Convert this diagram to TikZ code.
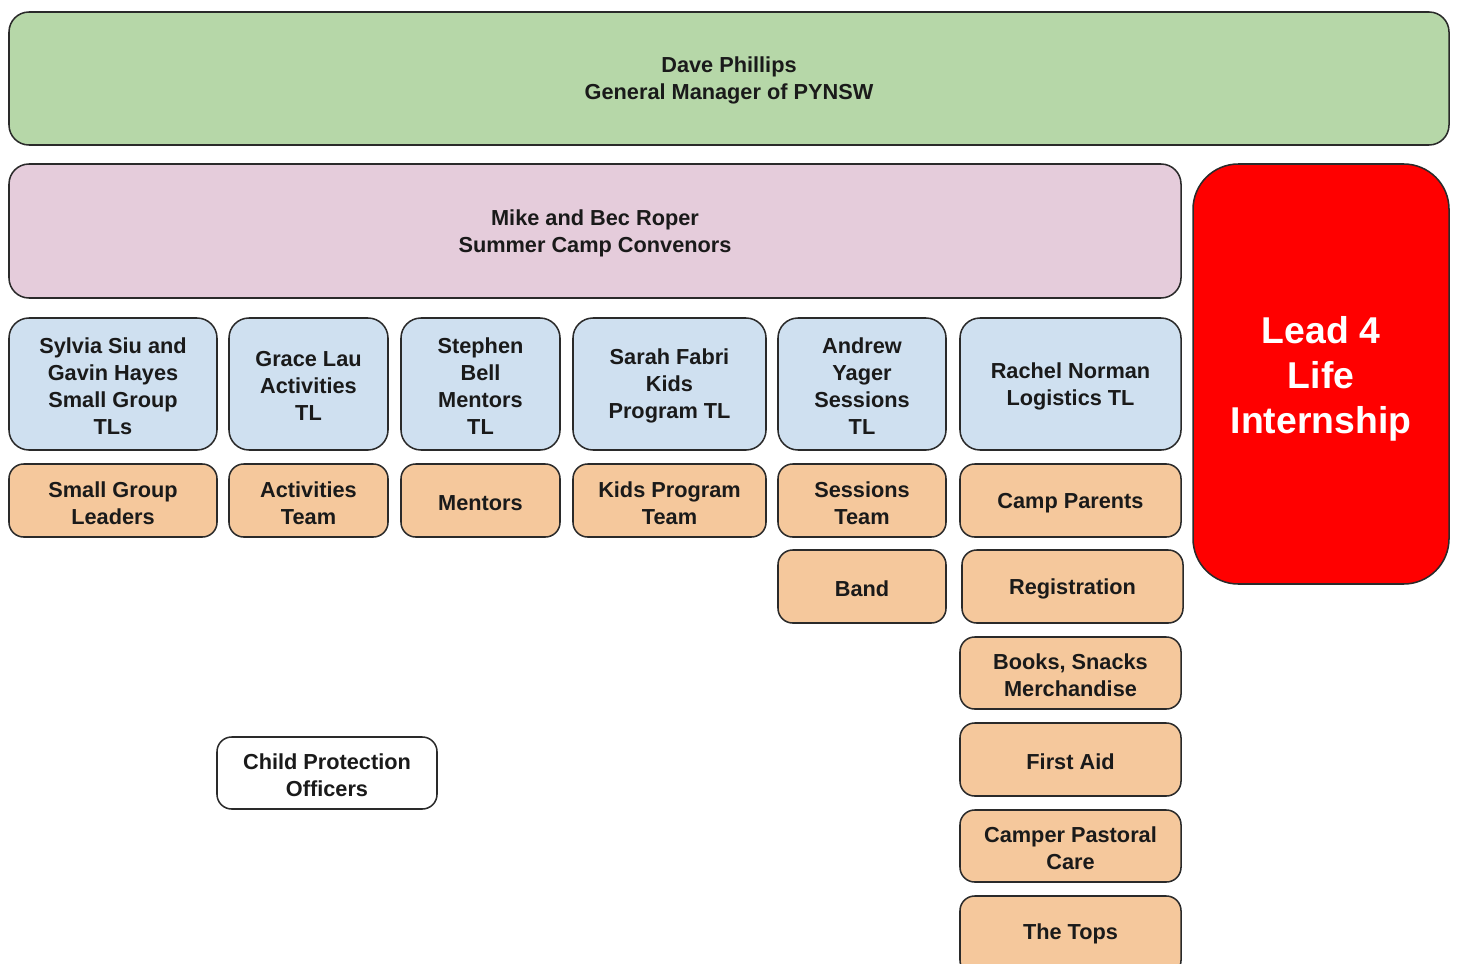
\documentclass[tikz,border=0pt]{standalone}
\usepackage{fontspec}
\setmainfont{Liberation Sans}
\definecolor{gm}{HTML}{B6D7A8}
\definecolor{pk}{HTML}{E5CCDB}
\definecolor{bl}{HTML}{CFE0F0}
\definecolor{org}{HTML}{F5C89C}
\definecolor{edge}{HTML}{2A2A2A}
\definecolor{txt}{HTML}{1A1A1A}
\tikzset{
  box/.style={draw=edge, line width=1.15pt, rounded corners=11pt},
  lbl/.style={align=center, font=\bfseries\fontsize{16.3}{20.2}\selectfont, text=txt, inner sep=0pt},
}
\begin{document}
\begin{tikzpicture}[x=0.75pt,y=-0.75pt]
\useasboundingbox (0,0) rectangle (1458,963);
\clip (0,0) rectangle (1458,963);
% top
\draw[box, fill=gm, rounded corners=15pt] (9,12) rectangle (1449,145);
\node[lbl] (gm) at (729,80) {Dave Phillips\\General Manager of PYNSW};
\draw[box, fill=pk, rounded corners=15pt] (9,164) rectangle (1181,298);
\node[lbl] (conv) at (595,233) {Mike and Bec Roper\\Summer Camp Convenors};
\draw[box, fill=red, rounded corners=34pt] (1193,164) rectangle (1449,584);
\node[lbl, text=white, font=\bfseries\fontsize{28}{34}\selectfont] (l4l) at (1321,379) {Lead 4\\Life\\Internship};
% blue row
\foreach \a/\b/\n/\t in {9/217/s1/{Sylvia Siu and\\Gavin Hayes\\Small Group\\TLs},
  229/388/s2/{Grace Lau\\Activities\\TL},
  401/560/s3/{Stephen\\Bell\\Mentors\\TL},
  573/766/s4/{Sarah Fabri\\Kids\\Program TL},
  778/946/s5/{Andrew\\Yager\\Sessions\\TL},
  960/1181/s6/{Rachel Norman\\Logistics TL}}{
  \draw[box, fill=bl, rounded corners=15pt] (\a,318) rectangle (\b,450);
  \node[lbl] (\n) at ({(\a+\b)/2},386) {\t};
}
% orange boxes
\foreach \a/\b/\ya/\yb in {9/217/464/537, 229/388/464/537, 401/560/464/537,
  573/766/464/537, 778/946/464/537, 960/1181/464/537, 778/946/550/623,
  962/1183/550/623, 960/1181/637/709, 960/1181/723/796, 960/1181/810/882,
  960/1181/896/975}{
  \draw[box, fill=org] (\a,\ya) rectangle (\b,\yb);
}
\node[lbl] (t1) at (113,503) {Small Group\\Leaders};
\node[lbl] (t2) at (308.5,503) {Activities\\Team};
\node[lbl] (t3) at (480.5,503) {Mentors};
\node[lbl] (t4) at (669.5,503) {Kids Program\\Team};
\node[lbl] (t5) at (862,503) {Sessions\\Team};
\node[lbl] (t6) at (1070.5,503) {Camp Parents};
\node[lbl] (band) at (862,589) {Band};
\node[lbl] (reg) at (1072.5,589) {Registration};
\node[lbl] (books) at (1070.5,675) {Books, Snacks\\Merchandise};
\node[lbl] (aid) at (1070.5,762) {First Aid};
\node[lbl] (care) at (1070.5,848) {Camper Pastoral\\Care};
\node[lbl] (tops) at (1070.5,934) {The Tops};
% child protection
\draw[box, fill=white] (217,737) rectangle (437,809);
\node[lbl] (cpo) at (327,775) {Child Protection\\Officers};
\end{tikzpicture}
\end{document}
